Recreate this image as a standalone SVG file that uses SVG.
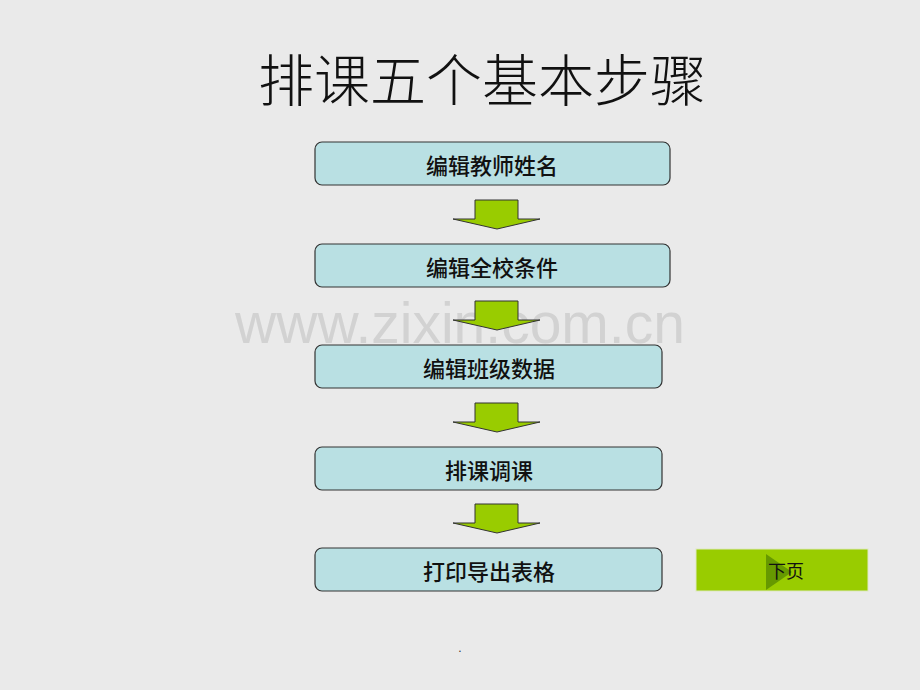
<svg xmlns="http://www.w3.org/2000/svg" width="920" height="690" viewBox="0 0 920 690">
<defs>
<style>
.box{fill:#B9E0E3;stroke:#333;stroke-width:1.2}
.lbl{font-family:"Noto Sans CJK SC","Liberation Sans",sans-serif;font-size:22px;font-weight:500;fill:#111;text-anchor:middle}
.arr{fill:#99CC00;stroke:#333;stroke-width:1}
</style>
</defs>
<rect width="920" height="690" fill="#EAEAEA"/>
<text x="460" y="343" font-family="Liberation Sans,Arial,sans-serif" font-size="57" fill="#D2D2D2" text-anchor="middle">www.zixin.com.cn</text>
<text id="title" x="482" y="101" font-family="Noto Sans CJK SC,sans-serif" font-size="56" font-weight="300" fill="#111" text-anchor="middle">排课五个基本步骤</text>
<g id="connectors">
<path class="arr" d="M475,200 H518 V219 H540 L497,229 L453,219 H475 Z"/>
<path class="arr" d="M475,301 H518 V320 H540 L497,330 L453,320 H475 Z"/>
<path class="arr" d="M475,403 H518 V422 H540 L497,432 L453,422 H475 Z"/>
<path class="arr" d="M475,504 H518 V523 H540 L497,533 L453,523 H475 Z"/>
</g>
<g id="n1"><rect class="box" x="315" y="142" width="355" height="43" rx="7"/><text class="lbl" x="492" y="174">编辑教师姓名</text></g>
<g id="n2"><rect class="box" x="315" y="244" width="355" height="43" rx="7"/><text class="lbl" x="492" y="276">编辑全校条件</text></g>
<g id="n3"><rect class="box" x="315" y="345" width="347" height="43" rx="7"/><text class="lbl" x="489" y="377">编辑班级数据</text></g>
<g id="n4"><rect class="box" x="315" y="447" width="347" height="43" rx="7"/><text class="lbl" x="489" y="479">排课调课</text></g>
<g id="n5"><rect class="box" x="315" y="548" width="347" height="43" rx="7"/><text class="lbl" x="489" y="580">打印导出表格</text></g>
<g id="next">
<rect x="696" y="549" width="172" height="42" fill="#99CC00" stroke="#DDE8C0" stroke-width="1"/>
<path d="M766,554 L792,572 L766,590 Z" fill="#669900"/>
<text x="786" y="578" font-family="Noto Sans CJK SC,sans-serif" font-size="18" fill="#111" text-anchor="middle">下页</text>
</g>
<text x="460" y="652" font-family="Liberation Sans,sans-serif" font-size="12" fill="#333" text-anchor="middle">.</text>
</svg>
